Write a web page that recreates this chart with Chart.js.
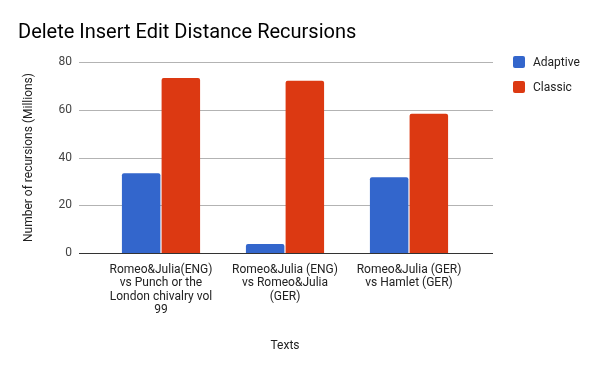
<!DOCTYPE html>
<html>
<head>
<meta charset="utf-8">
<script src="https://cdn.jsdelivr.net/npm/chart.js@4"></script>
<style>
html,body{margin:0;padding:0;background:#fff;}
#wrap{width:600px;height:371px;position:relative;}
</style>
</head>
<body>
<div id="wrap"><canvas id="c" width="600" height="371"></canvas></div>
<script>
const categories = [
  ["Romeo&Julia(ENG)", "vs Punch or the", "London chivalry vol", "99"],
  ["Romeo&Julia (ENG)", "vs Romeo&Julia", "(GER)"],
  ["Romeo&Julia (GER)", "vs Hamlet (GER)"]
];
const seriesNames = ["Adaptive", "Classic"];
const adaptiveValues = [33.4, 3.8, 31.7];
const classicValues = [73.3, 72.1, 58.3];
const yTicks = [0, 20, 40, 60, 80];
const colors = ["#3366cc", "#dc3912"];

const FONT = "Roboto, 'Liberation Sans', sans-serif";

const gridPlugin = {
  id: 'extGrid',
  beforeDatasetsDraw(chart) {
    const ctx = chart.ctx, y = chart.scales.y, a = chart.chartArea;
    ctx.save();
    yTicks.forEach(v => {
      const py = Math.round(y.getPixelForValue(v)) + 0.5;
      ctx.beginPath();
      ctx.strokeStyle = v === 0 ? '#333333' : '#b3b3b3';
      ctx.lineWidth = 1;
      ctx.moveTo(a.left - 20, py);
      ctx.lineTo(a.right + 22, py);
      ctx.stroke();
    });
    ctx.restore();
  },
  afterDatasetsDraw(chart) {
    const ctx = chart.ctx, y = chart.scales.y, a = chart.chartArea;
    const py = Math.round(y.getPixelForValue(0)) + 0.5;
    ctx.save();
    ctx.beginPath();
    ctx.strokeStyle = '#333333';
    ctx.lineWidth = 1;
    ctx.moveTo(a.left - 20, py);
    ctx.lineTo(a.right + 22, py);
    ctx.stroke();
    // legend
    ctx.font = "12px " + FONT;
    ctx.textBaseline = 'middle';
    ctx.textAlign = 'left';
    chart.data.datasets.forEach((ds, i) => {
      const ly = 62 + i * 25;
      ctx.fillStyle = ds.backgroundColor;
      ctx.beginPath();
      if (ctx.roundRect) ctx.roundRect(513, ly - 6, 12, 12, 2); else ctx.rect(513, ly - 6, 12, 12);
      ctx.fill();
      ctx.fillStyle = '#222222';
      ctx.fillText(ds.label, 533, ly + 0.5);
    });
    ctx.restore();
  }
};

new Chart(document.getElementById('c'), {
  type: 'bar',
  data: {
    labels: categories,
    datasets: [
      { label: seriesNames[0], data: adaptiveValues, backgroundColor: colors[0], borderRadius: 2, borderSkipped: 'bottom' },
      { label: seriesNames[1], data: classicValues, backgroundColor: colors[1], borderRadius: 2, borderSkipped: 'bottom' }
    ]
  },
  options: {
    responsive: false,
    animation: false,
    devicePixelRatio: 1,
    layout: { padding: { left: 18, right: 129, top: 0, bottom: 17 } },
    datasets: { bar: { categoryPercentage: 0.64, barPercentage: 0.97 } },
    plugins: {
      legend: { display: false },
      tooltip: { enabled: false },
      title: {
        display: true,
        text: 'Delete Insert Edit Distance Recursions',
        align: 'start',
        color: '#000000',
        font: { family: FONT, size: 20, weight: 'normal' },
        padding: { top: 21, bottom: 17 }
      }
    },
    scales: {
      x: {
        grid: { display: false, drawTicks: false },
        border: { display: false },
        ticks: { color: '#222222', font: { family: FONT, size: 12, lineHeight: 1.12 }, padding: 10, maxRotation: 0, autoSkip: false },
        title: { display: true, text: 'Texts', color: '#222222', font: { family: FONT, size: 12 }, padding: { top: 0, bottom: 1 } },
        afterFit(s) { s.height = 101; }
      },
      y: {
        min: 0, max: 80,
        afterBuildTicks(s) { s.ticks = yTicks.map(v => ({ value: v })); },
        grid: { display: false, drawTicks: false },
        border: { display: false },
        ticks: { color: '#444444', font: { family: FONT, size: 12 }, padding: 27 },
        title: { display: true, text: 'Number of recursions (Millions)', color: '#222222', font: { family: FONT, size: 12 }, padding: { top: 4, bottom: 0 } },
        afterFit(s) { s.width = 81; }
      }
    }
  },
  plugins: [gridPlugin]
});
</script>
</body>
</html>
